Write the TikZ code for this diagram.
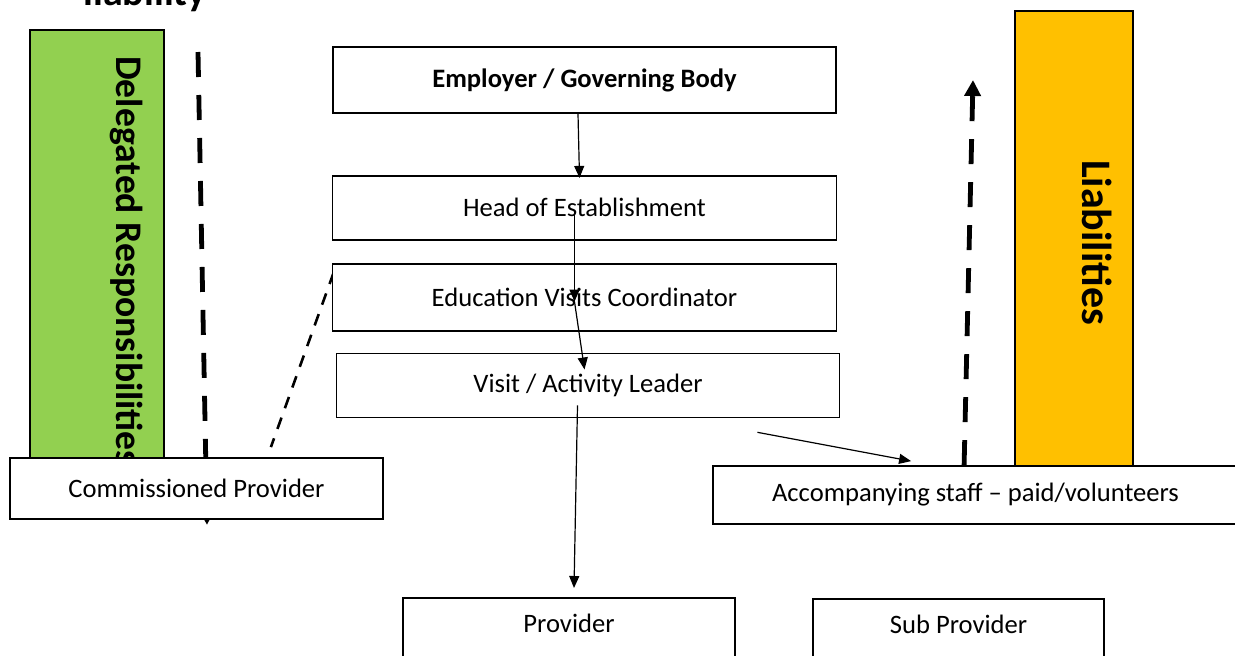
\documentclass[tikz,border=0pt]{standalone}
\usepackage{fontspec}
\setmainfont{Carlito}
\usetikzlibrary{arrows.meta, positioning, backgrounds}
\definecolor{delegGreen}{HTML}{92D050}
\definecolor{liabAmber}{HTML}{FFC000}

\begin{document}
\begin{tikzpicture}[
    x=0.5pt, y=-0.5pt,
    box/.style={rectangle, draw, fill=white, line width=0.9pt, minimum width=252pt, minimum height=32pt, inner sep=2pt, font=\fontsize{13.3}{16}\selectfont, align=center},
    openbox/.style={box, anchor=north, minimum height=0pt, inner ysep=0pt, text height=17.5pt, text depth=18pt},
    bar/.style={rectangle, draw, line width=0.9pt, inner sep=0pt},
    side/.style={font=\bfseries\fontsize{18.8}{22}\selectfont, rotate=-90},
    arrow/.style={-{Triangle[length=6pt,width=5pt]}, line width=0.6pt},
    bigdash/.style={-{Triangle[length=8pt,width=8pt]}, line width=2.4pt, dash pattern=on 12.5pt off 9pt},
]
    \useasboundingbox (0,0) rectangle (1235,655);

    % chain of responsibility
    \node[box, font=\bfseries\fontsize{13.3}{16}\selectfont, minimum width=251.5pt, minimum height=33pt] (emp) at (584.5,80) {Employer / Governing Body};
    \node[box, below=30.5pt of emp] (head) {Head of Establishment};
    \node[box, below=11pt of head, minimum height=33.5pt] (evc) {Education Visits Coordinator};
    \node[box, below=10.5pt of evc, xshift=1.75pt, minimum width=251.5pt] (visit) {Visit / Activity Leader};
    \node[box, minimum width=186.5pt, minimum height=30.5pt] (comm) at (196.5,488.5) {Commissioned Provider};
    \node[box, minimum width=262.5pt, minimum height=29pt] (acc) at (975.5,495) {Accompanying staff -- paid/volunteers};
    \node[openbox, minimum width=166pt] (prov) at (569,597) {Provider};
    \node[openbox, minimum width=145.5pt] (sub) at (958.5,598) {Sub Provider};

    % side bars and dashed links
    \begin{scope}[on background layer]
        \node[bar, fill=delegGreen, minimum width=67pt, minimum height=220pt] (deleg) at (97,250) {};
        \node[bar, fill=liabAmber, minimum width=59pt, minimum height=227.5pt] (liab) at (1074,238.5) {};
        \node[side] (delegtext) at (127,261) {Delegated Responsibilities};
        \node[side, font=\bfseries\fontsize{21}{24}\selectfont] (liabtext) at (1097,242.5) {Liabilities};
        \node[font=\bfseries\fontsize{20}{24}\selectfont, anchor=base] (liability) at (145,5) {liability};
        \coordinate (deltop) at (198,52);
        \coordinate (liabup) at (973,80);
        \draw[bigdash] (deltop) -- ([xshift=5.25pt,yshift=-2.5pt]comm.south);
        \draw[line width=1.3pt, dash pattern=on 6pt off 5pt] ([xshift=1pt,yshift=-5pt]evc.north west) -- ([xshift=-56.5pt,yshift=5pt]comm.north east);
    \end{scope}
    \draw[bigdash] ([xshift=126pt]acc.north west) -- (liabup);

    \draw[arrow] ([xshift=-3.25pt]emp.south) -- ([xshift=-2.5pt,yshift=-1.5pt]head.north);
    \draw[arrow] ([xshift=-5pt,yshift=-2pt]head.center) -- ([xshift=-5pt,yshift=-2.25pt]evc.center);
    \draw[arrow] ([xshift=-5pt,yshift=-2.25pt]evc.center) -- ([xshift=-1.75pt,yshift=-8.5pt]visit.north);
    \draw[arrow] ([xshift=-5.25pt,yshift=-10pt]visit.center) -- ([xshift=2.5pt,yshift=4.5pt]prov.north);
    \draw[arrow] ([xshift=-41.5pt,yshift=-7pt]visit.south east) -- ([xshift=99.5pt,yshift=2pt]acc.north west);
\end{tikzpicture}
\end{document}
